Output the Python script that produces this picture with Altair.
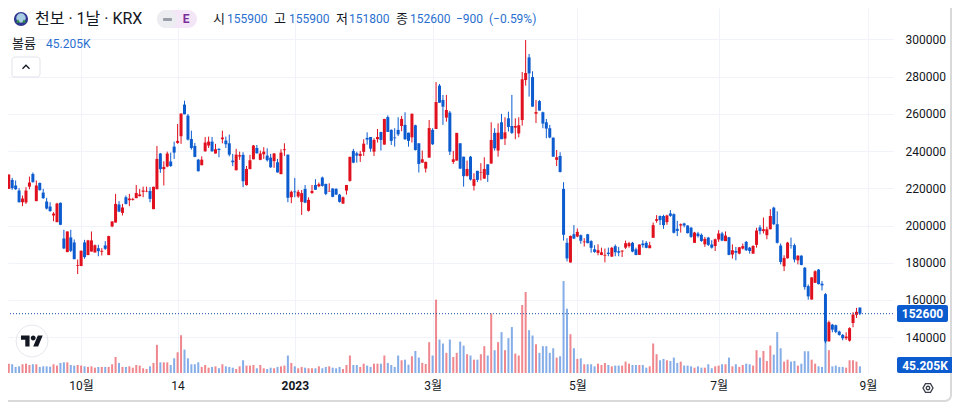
import altair as alt
import pandas as pd

# Daily candles, in thousand won. "R" = rising (red), "B" = falling (blue).
directions = ("RRBBBRRRBR" "BBBBRRBBRB" "BRRBRRRBRB" "RRRBRBRRRR" "RRBRRBRRBB"
              "RRBBBBBRRR" "BRBRBBBRRB" "RRRBRRBBRB" "RRBRBRRBRR" "BRBBRBBBRR"
              "RBBRRBBRRB" "RBBBBRBBRB" "BRRRBRBBRB" "RRBBRBRBRR" "BRBRBRBBRR"
              "RRBBRBBBBB" "RBBBRBRBRB" "BBRRRBRBBR" "RRBBRBBRRR" "BBRBBBRBBB"
              "RBBRBBRRBR" "BRBRRBBRRB" "RRRBBBRRBB" "RBBBRRBBBR" "BBBBRRRRB")

highs = [222.7, 227.4, 225.6, 224.2, 220.1, 216.1, 220.6, 226.3, 228.5, 224.2,
         223.1, 219.7, 214.9, 212.5, 207.2, 212.2, 212.4, 197.7, 196.8, 197.7,
         192.5, 181.7, 186.6, 192.3, 192.3, 196.8, 189.8, 189.6, 187.8, 191.6,
         194.5, 202.3, 217.0, 213.1, 211.6, 216.1, 217.0, 214.9, 221.8, 219.7,
         220.9, 220.9, 220.6, 220.9, 242.8, 239.0, 234.5, 239.7, 239.2, 245.1,
         254.6, 260.2, 267.1, 260.0, 251.0, 244.4, 235.8, 237.2, 247.6, 247.8,
         247.6, 243.9, 241.5, 251.0, 247.8, 248.9, 238.5, 241.2, 239.7, 239.4,
         232.0, 238.0, 243.3, 243.3, 240.3, 242.1, 241.5, 238.5, 239.0, 235.8,
         241.0, 244.2, 238.1, 218.8, 225.6, 219.2, 219.1, 221.8, 215.2, 221.8,
         224.9, 223.1, 226.3, 222.4, 222.7, 220.0, 220.0, 217.0, 215.6, 221.8,
         237.0, 241.2, 239.7, 240.1, 246.4, 250.1, 247.6, 246.9, 251.9, 250.3,
         257.3, 259.2, 251.7, 252.3, 258.2, 258.9, 260.9, 249.9, 260.1, 254.2,
         244.2, 240.3, 234.4, 256.7, 252.3, 277.1, 276.1, 270.2, 270.2, 261.6,
         240.1, 249.8, 244.2, 237.0, 234.9, 237.4, 228.1, 229.4, 233.5, 236.7,
         232.9, 255.5, 252.3, 254.9, 260.0, 258.2, 261.2, 270.2, 257.6, 258.2,
         282.5, 299.7, 292.2, 282.9, 267.5, 267.5, 261.2, 257.3, 254.1, 247.4,
         240.6, 239.4, 223.3, 193.2, 194.6, 200.2, 198.4, 195.2, 193.2, 195.5,
         192.1, 189.4, 189.9, 188.1, 187.6, 188.1, 188.5, 189.8, 188.5, 186.7,
         191.9, 191.2, 191.2, 188.1, 189.8, 192.1, 191.6, 191.2, 201.6, 205.6,
         205.4, 205.8, 205.8, 208.3, 206.5, 202.5, 201.1, 201.5, 200.2, 199.3,
         196.6, 196.6, 195.7, 193.9, 193.9, 192.1, 193.0, 197.5, 196.6, 196.8,
         193.9, 189.9, 188.5, 188.5, 190.3, 191.7, 188.5, 189.4, 198.8, 200.2,
         204.3, 199.3, 208.8, 210.1, 207.6, 190.3, 184.0, 191.2, 193.5, 190.3,
         184.0, 184.0, 177.7, 168.3, 172.3, 175.9, 176.6, 170.1, 163.7, 148.9,
         147.1, 146.7, 143.5, 141.7, 142.6, 145.3, 153.4, 155.7, 155.9]

tops = [222.4, 227.4, 224.5, 221.5, 218.8, 214.5, 218.8, 223.1, 227.7, 221.5,
        222.9, 217.7, 212.9, 210.2, 206.4, 211.8, 212.2, 193.0, 196.8, 193.6,
        190.9, 178.7, 186.4, 190.9, 192.0, 192.0, 189.4, 187.8, 186.4, 189.3,
        194.3, 202.2, 211.6, 211.3, 209.7, 215.2, 214.5, 214.3, 217.5, 216.7,
        218.8, 218.6, 218.6, 220.8, 235.8, 238.7, 231.5, 238.7, 234.4, 242.4,
        245.5, 260.2, 265.0, 259.1, 246.5, 242.8, 235.4, 235.4, 244.6, 245.1,
        245.1, 241.0, 241.2, 247.3, 245.7, 244.2, 234.9, 238.1, 237.8, 238.0,
        230.4, 235.1, 243.0, 241.7, 238.7, 239.7, 237.6, 236.5, 238.7, 234.0,
        239.2, 241.0, 238.1, 218.1, 218.3, 218.1, 217.4, 219.7, 213.8, 218.6,
        221.8, 222.2, 225.8, 222.4, 218.6, 219.9, 219.7, 216.6, 215.2, 221.8,
        236.9, 240.1, 238.8, 238.5, 244.0, 247.1, 247.6, 246.0, 247.6, 250.3,
        257.3, 258.3, 251.4, 247.3, 251.4, 257.3, 254.1, 249.9, 260.1, 253.9,
        244.2, 235.6, 234.2, 252.4, 251.4, 266.4, 275.2, 267.5, 262.1, 260.7,
        235.6, 249.8, 244.2, 237.0, 230.4, 237.0, 224.9, 229.4, 228.8, 230.4,
        232.9, 246.0, 249.8, 249.9, 255.5, 250.1, 257.6, 253.5, 253.5, 253.9,
        278.6, 282.0, 290.4, 279.8, 261.0, 266.9, 260.9, 255.5, 252.3, 247.2,
        236.7, 237.4, 219.7, 190.7, 194.4, 195.3, 196.6, 194.8, 191.4, 195.3,
        191.6, 187.2, 186.7, 185.6, 184.2, 185.4, 188.0, 188.9, 186.2, 186.5,
        190.5, 190.5, 190.7, 187.2, 189.8, 190.3, 190.7, 189.4, 200.2, 203.4,
        205.1, 205.1, 205.4, 206.5, 206.1, 198.2, 200.7, 201.1, 200.0, 198.8,
        196.2, 195.7, 195.0, 192.8, 193.5, 189.8, 192.6, 195.7, 195.7, 194.6,
        193.7, 186.7, 186.3, 188.3, 188.9, 191.2, 188.1, 189.0, 197.3, 199.0,
        198.0, 198.0, 205.1, 209.6, 200.7, 189.2, 182.6, 190.8, 189.4, 189.4,
        183.8, 183.8, 177.3, 167.4, 172.1, 175.4, 176.3, 168.7, 163.1, 148.0,
        146.7, 146.4, 143.0, 141.2, 140.3, 144.8, 152.1, 153.6, 155.9]

bottoms = [213.1, 219.7, 220.1, 219.5, 212.5, 212.5, 212.4, 220.9, 223.3, 213.1,
           219.0, 214.7, 209.1, 207.7, 205.4, 201.8, 200.4, 187.7, 185.7, 186.4,
           181.9, 178.3, 178.2, 183.0, 184.1, 186.0, 185.5, 186.2, 185.9, 187.5,
           184.1, 199.5, 201.6, 207.5, 206.8, 211.6, 213.6, 213.8, 214.7, 215.8,
           218.1, 218.3, 214.3, 208.8, 219.5, 230.3, 230.3, 231.7, 232.0, 239.2,
           244.4, 248.0, 259.8, 246.2, 241.7, 236.9, 229.2, 232.4, 239.9, 243.0,
           239.9, 238.7, 240.6, 246.4, 243.7, 238.1, 234.0, 229.7, 237.1, 223.8,
           221.7, 230.3, 235.6, 238.8, 235.3, 238.3, 235.1, 231.3, 234.6, 228.5,
           227.6, 240.5, 214.9, 215.2, 217.9, 215.6, 212.7, 212.3, 207.9, 217.5,
           219.2, 221.1, 221.3, 217.0, 218.3, 215.4, 216.6, 212.7, 211.8, 218.8,
           224.0, 233.8, 237.6, 237.4, 239.6, 246.2, 241.3, 239.7, 246.4, 246.0,
           243.5, 250.3, 245.5, 246.9, 249.0, 253.5, 246.4, 245.5, 247.4, 240.6,
           233.1, 233.8, 230.6, 236.5, 243.7, 251.9, 266.0, 263.9, 258.0, 239.7,
           234.2, 234.9, 230.6, 226.5, 226.7, 224.7, 221.3, 224.5, 228.5, 225.2,
           227.2, 233.3, 241.5, 240.3, 246.4, 246.7, 253.0, 249.8, 252.6, 249.4,
           256.7, 278.2, 281.8, 263.9, 260.1, 261.8, 254.8, 252.1, 247.3, 237.0,
           235.3, 228.8, 195.0, 182.3, 180.1, 193.0, 194.1, 191.8, 191.0, 190.5,
           188.0, 185.8, 185.3, 184.2, 183.8, 184.7, 183.3, 185.6, 185.4, 186.0,
           188.1, 188.9, 186.0, 184.2, 184.2, 189.4, 188.0, 187.8, 193.4, 202.5,
           202.9, 200.2, 201.8, 205.2, 196.1, 197.1, 200.0, 200.0, 195.9, 193.9,
           190.7, 194.3, 191.7, 189.9, 189.6, 188.1, 189.0, 192.5, 191.9, 191.6,
           184.2, 184.4, 185.4, 184.9, 187.6, 186.7, 186.3, 184.9, 189.6, 197.0,
           197.0, 194.8, 198.0, 200.7, 190.7, 180.4, 178.1, 182.4, 189.2, 181.7,
           181.3, 178.8, 166.9, 161.9, 160.2, 169.2, 168.5, 167.8, 137.7, 137.7,
           144.0, 142.8, 141.2, 139.4, 139.4, 138.1, 147.6, 152.0, 152.6]

lows = [213.1, 219.7, 219.2, 219.2, 212.4, 210.4, 211.6, 219.5, 223.1, 213.1,
        218.8, 214.3, 208.6, 207.5, 202.3, 201.8, 200.2, 187.3, 185.7, 185.7,
        181.9, 173.9, 178.2, 182.1, 184.1, 186.0, 185.5, 183.5, 183.9, 186.9,
        184.1, 199.1, 201.6, 207.2, 205.4, 211.3, 210.4, 213.4, 214.7, 215.6,
        215.2, 217.9, 212.5, 208.8, 219.5, 228.3, 221.5, 231.3, 231.5, 235.8,
        243.9, 243.9, 259.8, 245.7, 240.8, 236.7, 229.0, 232.4, 239.7, 241.7,
        239.7, 238.7, 236.7, 244.2, 241.7, 237.2, 231.9, 229.7, 235.3, 220.6,
        221.5, 230.3, 235.6, 238.7, 235.1, 235.8, 234.4, 231.0, 231.0, 228.5,
        227.6, 237.4, 212.5, 212.0, 215.2, 214.9, 205.7, 212.0, 207.5, 217.0,
        219.2, 220.6, 220.9, 216.3, 218.3, 215.2, 216.5, 212.3, 211.6, 216.6,
        223.6, 233.5, 233.8, 234.2, 237.4, 243.5, 239.7, 237.4, 244.6, 240.3,
        243.5, 250.3, 243.3, 242.4, 248.1, 250.7, 246.0, 242.4, 244.6, 240.3,
        228.5, 233.8, 228.5, 236.5, 243.3, 251.9, 266.0, 254.1, 255.8, 237.9,
        233.1, 234.9, 230.3, 220.9, 226.3, 224.2, 218.8, 223.4, 224.2, 225.2,
        223.4, 233.3, 240.3, 237.0, 246.4, 243.3, 250.5, 249.2, 246.4, 247.4,
        253.7, 275.2, 269.3, 263.9, 255.1, 261.8, 252.3, 246.9, 246.9, 237.0,
        232.0, 228.5, 191.9, 180.7, 180.1, 192.7, 193.7, 190.2, 188.7, 190.5,
        185.4, 185.3, 184.0, 184.0, 180.2, 183.5, 183.1, 183.5, 183.5, 183.1,
        187.4, 188.1, 185.6, 184.0, 184.2, 188.1, 187.8, 187.8, 193.4, 201.5,
        200.2, 198.2, 200.4, 204.7, 195.7, 194.3, 196.2, 199.0, 195.7, 193.4,
        190.7, 193.5, 191.2, 188.5, 189.0, 187.6, 186.3, 191.2, 191.6, 191.6,
        184.0, 182.2, 181.3, 184.5, 187.1, 186.3, 184.9, 184.7, 188.1, 195.2,
        195.7, 192.6, 197.9, 200.2, 190.3, 179.1, 175.5, 182.2, 187.6, 180.2,
        179.1, 178.6, 165.5, 160.1, 160.2, 169.1, 168.3, 165.1, 136.7, 137.7,
        142.6, 142.1, 140.8, 138.3, 138.5, 137.6, 145.3, 150.3, 151.8]

# Daily volume, in thousands of shares.
volumes = [63, 63, 59, 41, 45, 59, 63, 54, 59, 59,
           41, 45, 45, 43, 59, 50, 68, 72, 72, 54,
           50, 54, 50, 45, 41, 45, 36, 41, 41, 41,
           41, 59, 108, 68, 41, 41, 45, 36, 54, 50,
           32, 27, 45, 68, 190, 72, 72, 72, 54, 99,
           140, 255, 158, 99, 59, 59, 72, 41, 54, 36,
           41, 45, 32, 59, 45, 41, 36, 27, 45, 86,
           50, 50, 54, 32, 54, 32, 27, 36, 32, 41,
           45, 50, 118, 68, 45, 32, 41, 36, 32, 32,
           32, 45, 32, 41, 45, 36, 32, 41, 27, 54,
           118, 54, 54, 41, 63, 50, 41, 63, 63, 63,
           118, 68, 54, 41, 118, 86, 90, 56, 113, 149,
           104, 68, 61, 208, 118, 495, 226, 199, 136, 226,
           108, 136, 212, 185, 127, 118, 90, 90,
           127, 181, 118, 402, 154, 208, 276, 154, 235, 310,
           131, 118, 459, 547, 289, 253, 194, 136, 181, 181,
           136, 167, 104, 113, 621, 434, 262, 167, 95, 99,
           59, 59, 59, 45, 63, 54, 68, 54, 45, 50,
           50, 50, 77, 63, 54, 54, 54, 54, 36, 45,
           199, 127, 86, 95, 86, 81, 104, 68, 77, 50,
           50, 45, 36, 45, 36, 36, 59, 32, 45, 50,
           59, 59, 104, 45, 59, 41, 54, 63, 59, 50,
           154, 104, 149, 81, 185, 124, 276, 167, 77, 90,
           77, 81, 50, 63, 147, 147, 90, 63, 45, 41,
           217, 154, 45, 50, 41, 41, 36, 86, 86, 77, 45.205]

price_ticks = [140000, 160000, 180000, 200000, 220000, 240000, 260000, 280000, 300000]
time_tick_bars = [22, 50, 84, 124, 166, 207, 250.3]
time_tick_labels = ["10월", "14", "2023", "3월", "5월", "7월", "9월"]
last_price = 152600

UP = "#E0101E"
DOWN = "#0C5CD0"
VALUE_BLUE = "#2A6FCF"
INK = "#131722"
FONT = "Roboto, Noto Sans CJK KR, sans-serif"
GRID = "#F0F3FA"

n = len(directions)
df = pd.DataFrame({
    "bar": list(range(n)),
    "high": [v * 1000 for v in highs[:n]],
    "top": [v * 1000 for v in tops[:n]],
    "bottom": [v * 1000 for v in bottoms[:n]],
    "low": [v * 1000 for v in lows[:n]],
    "volume": volumes[:n],
    "color": [UP if d == "R" else DOWN for d in directions],
})

W, H = 885, 365
x_scale = alt.Scale(domain=[0.7835, 257.6], nice=False, zero=False, padding=0)
y_scale = alt.Scale(domain=[120710, 316934], nice=False, zero=False)
v_scale = alt.Scale(domain=[0, 2464], nice=False, zero=True)

label_map = "{" + ",".join(f"'{b}':'{t}'" for b, t in zip(time_tick_bars, time_tick_labels)) + "}"
x_axis = alt.Axis(
    values=time_tick_bars, title=None, grid=True, gridColor=GRID, domain=False,
    ticks=False, labelPadding=7, labelFontSize=12, labelColor=INK, labelFont=FONT,
    labelAngle=0, labelFlush=False, labelOverlap=False,
    labelExpr=f"{label_map}[''+datum.value]",
    labelFontWeight=alt.expr("datum.value==84?'bold':'normal'"),
)
y_axis = alt.Axis(
    values=price_ticks, orient="right", title=None, grid=True, gridColor=GRID,
    domain=False, ticks=False, labelPadding=12, labelFontSize=12, labelColor=INK,
    labelFont=FONT, format="d",
)
x_enc = alt.X("bar:Q", scale=x_scale, axis=x_axis)
color_enc = alt.Color("color:N", scale=None)

base = alt.Chart(df)
volume_layer = base.mark_bar(size=2, opacity=0.5, orient="vertical").encode(
    x=x_enc,
    y=alt.Y("volume:Q", scale=v_scale, axis=None),
    y2=alt.datum(0),
    color=color_enc,
)
wick_layer = base.mark_rule(strokeWidth=1).encode(
    x=x_enc,
    y=alt.Y("high:Q", scale=y_scale, axis=y_axis),
    y2="low:Q",
    color=color_enc,
)
body_layer = base.mark_bar(size=3, orient="vertical").encode(
    x=x_enc,
    y=alt.Y("top:Q", scale=y_scale, axis=None),
    y2="bottom:Q",
    color=color_enc,
)
last_line = alt.Chart(pd.DataFrame({"price": [last_price]})).mark_rule(
    strokeWidth=1, strokeDash=[1, 2], color="#1A4FA8"
).encode(y=alt.Y("price:Q", scale=y_scale, axis=None))

one = alt.Data(values=[{"a": 1}])


def px(ref_x):
    return alt.value(ref_x - 8)


def py(ref_y):
    return alt.value(ref_y - 8)


def note(text, x, y, color=INK, size=12, weight="normal", align="left"):
    return alt.Chart(one).mark_text(
        text=text, color=color, fontSize=size, fontWeight=weight, align=align,
        baseline="middle", font=FONT,
    ).encode(x=px(x), y=py(y))


def box(x0, x1, y0, y1, fill="transparent", stroke="transparent", radius=0, sw=1):
    return alt.Chart(one).mark_rect(
        fill=fill, stroke=stroke, strokeWidth=sw, cornerRadius=radius
    ).encode(x=px(x0), x2=px(x1), y=py(y0), y2=py(y1))


def glyph(shape, x, y, size, color, filled=True, sw=1.5):
    return alt.Chart(one).mark_point(
        shape=shape, size=size, filled=filled, color=color,
        opacity=1, strokeWidth=sw,
    ).encode(x=px(x), y=py(y))


TV_LOGO = ("M-0.222 0.5H-0.611V-0.111H-1V-0.5H-0.222Z"
           "M0.556 0.5H0.111L0.528 -0.5H0.972Z"
           "M-0.111 -0.278a0.222 0.222 0 1 0 0.444 0a0.222 0.222 0 1 0 -0.444 0Z")
HEX = "M-0.5 -0.87L0.5 -0.87L1 0L0.5 0.87L-0.5 0.87L-1 0Z"
CHEVRON = "M-1 0.5L0 -0.5L1 0.5"

annotations = [
    # frame: the page margin cuts its far side, so it closes at the picture's edge
    box(1, 951, 1, 401, stroke="#D9D9D9", radius=6, sw=2),
    # header row
    glyph("circle", 21, 19, 200, "#2F3590"),
    glyph("circle", 21, 18, 90, "#A9CDE3"),
    glyph("triangle-up", 18, 21, 16, "#2E8B4A"),
    glyph("triangle-up", 24, 21, 16, "#2E8B4A"),
    note("천보 · 1날 · KRX", 35, 19, size=16),
    box(157, 197, 10, 28, fill="#F3E6F7", radius=9),
    box(157, 177, 10, 28, fill="#ECEDF0", radius=9),
    box(163, 172, 18, 21, fill="#9A9EA8", radius=1),
    note("E", 186, 19, color="#7B2D9A", size=12, weight="bold", align="center"),
    note("시", 213, 19, size=13),
    note("155900", 227, 19, color=VALUE_BLUE),
    note("고", 274, 19, size=13),
    note("155900", 289, 19, color=VALUE_BLUE),
    note("저", 336, 19, size=13),
    note("151800", 349, 19, color=VALUE_BLUE),
    note("종", 396, 19, size=13),
    note("152600", 410, 19, color=VALUE_BLUE),
    note("−900", 456, 19, color=VALUE_BLUE),
    note("(−0.59%)", 489, 19, color=VALUE_BLUE),
    # volume legend and collapse button
    note("볼륨", 12, 44, size=13),
    note("45.205K", 46, 44, color=VALUE_BLUE),
    box(12, 40, 57, 77, fill="white", stroke="#E0E3EB", radius=3),
    glyph(CHEVRON, 26, 67, 49, INK, filled=False, sw=1.3),
    # TradingView badge
    glyph("circle", 32, 341, 1024, "#E6E8EE", filled=False, sw=1),
    glyph(TV_LOGO, 32, 341, 484, "#131722"),
    # price scale tags
    box(897, 948, 305, 322, fill="#0C5CD0", radius=2),
    note("152600", 922.5, 314, color="white", weight="bold", align="center"),
    box(897, 953, 357, 373, fill="#0C5CD0", radius=2),
    note("45.205K", 925, 366, color="white", weight="bold", align="center"),
    glyph(HEX, 928, 388, 100, "#3A3E48", filled=False, sw=1.3),
    glyph("circle", 928, 388, 12, "#3A3E48", filled=False, sw=1.3),
]

chart = alt.layer(
    volume_layer, wick_layer, body_layer, last_line, *annotations
).resolve_scale(y="independent").properties(
    width=W,
    height=H,
    padding={"left": 0, "top": 0, "right": 59, "bottom": 31},
    autosize=alt.AutoSizeParams(type="none"),
    background="white",
).configure_view(stroke=None)

chart.save("out.html", embed_options={"renderer": "svg", "actions": False})
